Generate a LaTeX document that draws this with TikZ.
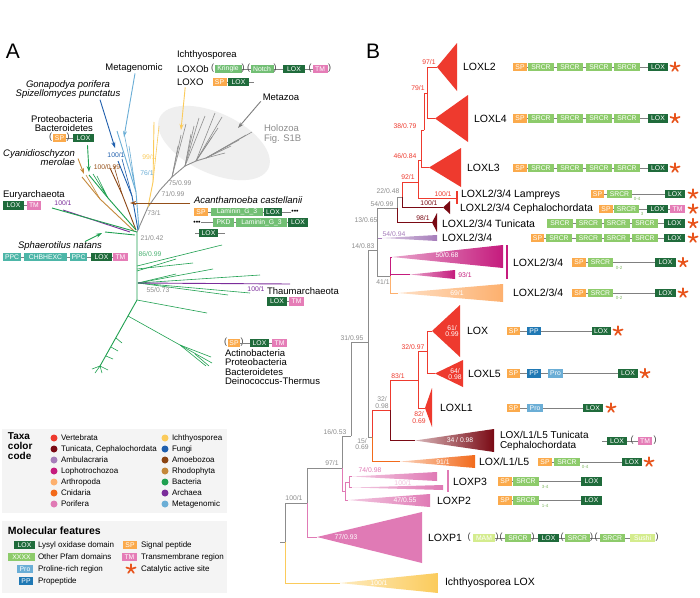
\documentclass[tikz,border=0pt]{standalone}
\usepackage{fontspec}
\setmainfont{Liberation Sans}
\usetikzlibrary{arrows.meta,positioning,calc}
\definecolor{loxg}{HTML}{1F6B3B}
\definecolor{pfam}{HTML}{8DCB6B}
\definecolor{pfamA}{HTML}{72BF74}
\definecolor{ppcc}{HTML}{4DB6A8}
\definecolor{spo}{HTML}{FBAA4C}
\definecolor{tmp}{HTML}{E57DB7}
\definecolor{proc}{HTML}{6BAED6}
\definecolor{ppb}{HTML}{1F78B4}
\definecolor{mamc}{HTML}{D4EC8E}
\definecolor{astc}{HTML}{E8541C}
\definecolor{lnk}{HTML}{808080}
\definecolor{tgray}{HTML}{8C8C8C}
\definecolor{legbg}{HTML}{F4F4F4}
\definecolor{holo}{HTML}{EFEFEF}
% taxa colours
\definecolor{vert}{HTML}{EE3A2E}
\definecolor{tuni}{HTML}{7A0A14}
\definecolor{ambu}{HTML}{A67DBA}
\definecolor{lopho}{HTML}{C51B7D}
\definecolor{arthro}{HTML}{FDB06E}
\definecolor{cnid}{HTML}{F26A1B}
\definecolor{pori}{HTML}{E07AB5}
\definecolor{ichth}{HTML}{FBCB5B}
\definecolor{fungi}{HTML}{1F5FAD}
\definecolor{amoeb}{HTML}{8B4513}
\definecolor{rhodo}{HTML}{C4883A}
\definecolor{bact}{HTML}{1FA050}
\definecolor{archa}{HTML}{7B2D9B}
\definecolor{metag}{HTML}{6BAED6}
\newcommand{\fsz}[1]{\fontsize{#1}{#1}\selectfont}
\tikzset{catstar/.pic={%
  \foreach \a in {270,342,54,126,198}
    \draw[astc,line width=1.7pt,line cap=round] (0,0) -- (\a:4.8);}}
\begin{document}
\begin{tikzpicture}[x=1pt,y=-1pt,
  every node/.style={inner sep=0pt,outer sep=0pt},
  txt/.style={font=\fsz{9.5}},
  itx/.style={font=\fsz{9.5}\itshape},
  clab/.style={font=\fsz{10.5},anchor=west},
  bsv/.style={font=\fsz{6.8}},
  wsv/.style={font=\fsz{6.8},text=white},
  dom/.style={fill=#1,text=white,font=\fsz{6.8},minimum height=8.5pt,inner xsep=0.8pt},
  loxd/.style={dom=loxg,minimum width=#1},loxd/.default=20,
  spd/.style={dom=spo,minimum width=#1},spd/.default=14,
  tmd/.style={dom=tmp,minimum width=#1},tmd/.default=15,
  srcr/.style={dom=pfam,minimum width=#1},srcr/.default=26,
  pfa/.style={dom=pfamA,minimum width=#1},
  ppcd/.style={dom=ppcc,minimum width=#1},
  mamd/.style={dom=mamc,minimum width=#1},
  ppd/.style={dom=ppb,minimum width=14},
  prod/.style={dom=proc,minimum width=#1},prod/.default=16,
  paren/.style={font=\fsz{9},text=black!75},
  subn/.style={font=\fsz{4.5},text=pfam!90!black},
  dlink/.style={draw=lnk,line width=0.8pt},
  brn/.style={line width=0.9pt},
  twig/.style={line width=0.6pt},
  arr/.style={line width=0.9pt,-{Stealth[length=6pt,width=4pt]}},
]
\useasboundingbox (0,0) rectangle (700,597);
\fill[white] (0,0) rectangle (700,597);

%% ---------------- panel A ----------------
\node[font=\fsz{21}] (pA) at (13,51) {A};
\fill[holo,rotate around={-25:(214,143)}] (214,143) ellipse [x radius=60, y radius=30];

\coordinate (c0) at (137,232);
\draw[brn,tgray] (c0) -- (148,207) -- (160,190) -- (172,177) -- (185,166) -- (196,161) -- (206,158);
\foreach \p in {(186,124),(178,146),(181,135)} \draw[twig,tgray] (172,177) -- \p;
\foreach \p in {(199,118),(205,116),(194,126),(191,134)} \draw[twig,tgray] (185,166) -- \p;
\foreach \p in {(215,113),(222,117),(212,137),(218,128)} \draw[twig,tgray] (196,161) -- \p;
\foreach \p in {(252,132),(246,135),(239,140),(231,146),(225,153)} \draw[twig,tgray] (206,158) -- \p;
\draw[brn,ichth] (148,207) -- (153,182) -- (154,122);
\draw[twig,ichth] (153,182) -- (159,126);
\draw[brn,metag] (139,229) -- (136,192) -- (117,131);
\draw[twig,metag] (136,192) -- (124,133) (136,192) -- (129,146);
\draw[brn,fungi] (138,230) -- (132,196) -- (118,161);
\draw[twig,fungi] (132,196) -- (122,159);
\draw[brn,amoeb] (136,230) -- (122,194) -- (110,168);
\draw[twig,amoeb] (122,194) -- (114,166);
\draw[brn,rhodo] (134,231) -- (100,199) -- (82,177);
\draw[twig,rhodo] (100,199) -- (86,175);
\draw[brn,bact] (136,230) -- (108,198) -- (89,175);
\draw[twig,bact] (108,198) -- (93,174) (108,198) -- (97,176);
\draw[brn,archa] (63,210) -- (130,232);
\draw[brn,bact] (52,208) -- (c0);
\draw[brn,bact] (105,232) -- (135,235);
\draw[brn,bact] (c0) -- (137,300) -- (128,316) -- (100,366);
\draw[twig,bact] (137,266) -- (222,245);
\draw[twig,bact] (137,269) -- (193,263);
\draw[twig,bact] (137,271) -- (176,259);
\coordinate (n55) at (138,283);
\foreach \p in {(213,269),(260,275),(228,295),(250,293),(176,274)} \draw[twig,bact] (n55) -- \p;
\draw[brn,archa] (n55) -- (290,284);
\draw[twig,bact] (137,300) -- (207,313);
\draw[twig,bact] (128,316) -- (180,345) -- (212,363);
\draw[twig,bact] (180,345) -- (206,366) (180,345) -- (211,357) (195,354) -- (209,366);
\draw[twig,bact] (116,338) -- (122,343) (111,347) -- (118,351) (106,356) -- (113,359)
  (100,366) -- (92,369) (100,366) -- (95,373) (100,366) -- (102,373) (100,366) -- (108,370);

\node[txt] (metaglab) at (134,68) {Metagenomic};
\node[itx,align=center] (gonalab) at (68,89.5) {Gonapodya porifera\\Spizellomyces punctatus};
\node[txt,align=right,anchor=east] (protlab) at (93,123.5) {Proteobacteria\\Bacteroidetes};
\node[spd=13] (prosp) at (59.5,138) {SP};
\node[loxd=21] (prolox) at (83.5,138) {LOX};
\draw[dlink] (prosp) -- (prolox);
\node[paren] (prop1) at (50.5,137.5) {(};
\node[paren] (prop2) at (68,137.5) {)};
\node[itx,align=right,anchor=east] (cyanlab) at (75,157.5) {Cyanidioschyzon\\merolae};

\node[txt,anchor=west] (ichlab) at (177,55) {Ichthyosporea};
\node[txt,anchor=west] (loxoblab) at (177,69) {LOXOb};
\node[txt,anchor=west] (loxolab) at (177,82) {LOXO};
\node[pfa=27] (kring) at (228,69) {Kringle};
\node[pfa=23] (notch) at (262,69) {Notch};
\node[loxd=22] (oblox) at (294,69) {LOX};
\node[tmd] (obtm) at (320,69) {TM};
\draw[dlink] (kring) -- (notch) (notch) -- (oblox) (oblox) -- (obtm);
\node[paren] (obp1) at (212.5,68.5) {(};
\node[paren] (obp2) at (243,68.5) {)};
\node[paren] (obp3) at (248.5,68.5) {(};
\node[paren] (obp4) at (275,68.5) {)};
\node[paren] (obp5) at (310,68.5) {(};
\node[paren] (obp6) at (329.5,68.5) {)};
\node[spd] (osp) at (219.5,82) {SP};
\node[loxd=21] (olox) at (238.5,82) {LOX};
\coordinate (otail) at (254,82);
\draw[dlink] (osp) -- (olox) (olox) -- (otail);
\node[txt] (metazlab) at (281,97) {Metazoa};
\node[txt,text=tgray,align=left,anchor=west] (holab) at (264,134) {Holozoa\\Fig. S1B};

\node[txt,anchor=west] (eurylab) at (3,195) {Euryarchaeota};
\node[loxd=21] (eulox) at (13.5,205.5) {LOX};
\node[tmd=14] (eutm) at (34,205.5) {TM};
\draw[dlink] (eulox) -- (eutm);
\node[itx] (sphlab) at (60,246) {Sphaerotilus natans};
\node[ppcd=18] (ppc1) at (12,257) {PPC};
\node[ppcd=43] (chb) at (45.5,257) {CHBHEXC};
\node[ppcd=17] (ppc2) at (78.5,257) {PPC};
\node[loxd=21] (sphlox) at (101.5,257) {LOX};
\node[tmd] (sphtm) at (120.5,257) {TM};
\draw[dlink] (ppc1) -- (chb) (chb) -- (ppc2) (ppc2) -- (sphlox) (sphlox) -- (sphtm);

\node[itx,anchor=west] (acanlab) at (194,200) {Acanthamoeba castellanii};
\node[spd] (a1sp) at (201,212) {SP};
\node[pfa=52] (a1lam) at (237,212) {Laminin\_G\_3};
\node[loxd=18] (a1lox) at (273,212) {LOX};
\node[font=\fsz{7}] (a1dot) at (295,212) {•••};
\draw[dlink] (a1sp) -- (a1lam) (a1lam) -- (a1lox) (a1lox) -- (a1dot);
\node[font=\fsz{7}] (a2dot) at (197,222.5) {•••};
\node[pfa=21] (a2pkd) at (223.5,222.5) {PKD};
\node[pfa=51] (a2lam) at (261.5,222.5) {Laminin\_G\_3};
\node[loxd] (a2lox) at (298,222.5) {LOX};
\draw[dlink] (a2dot) -- (a2pkd) (a2pkd) -- (a2lam) (a2lam) -- (a2lox);
\coordinate (a3h) at (195,233);
\node[loxd=19] (a3lox) at (208.5,233) {LOX};
\coordinate (a3t) at (225,233);
\draw[dlink] (a3h) -- (a3lox) (a3lox) -- (a3t);

\node[txt,anchor=west] (thaumlab) at (267,291) {Thaumarchaeota};
\node[loxd] (thlox) at (277,301.5) {LOX};
\node[tmd] (thtm) at (296.5,301.5) {TM};
\draw[dlink] (thlox) -- (thtm);
\node[paren] (bp1) at (225.5,342.5) {(};
\node[spd=12] (bsp) at (234,343) {SP};
\node[paren] (bp2) at (242,342.5) {)};
\node[loxd=19] (blox) at (259.5,343) {LOX};
\node[tmd] (btm) at (279.5,343) {TM};
\draw[dlink] (bsp) -- (blox) (blox) -- (btm);
\node[txt,align=left,anchor=north west] (bactlab) at (225,349.5) {Actinobacteria\\Proteobacteria\\Bacteroidetes\\Deinococcus-Thermus};

\node[bsv,text=fungi] (sa1) at (116,155) {100/1};
\node[bsv,text=amoeb!80!rhodo] (sa2) at (107,167) {100/0.99};
\node[bsv,text=ichth] (sa3) at (149,157) {99/1};
\node[bsv,text=metag] (sa4) at (147,173) {76/1};
\node[bsv,text=tgray] (sa5) at (180,183) {75/0.99};
\node[bsv,text=tgray] (sa6) at (173,194) {71/0.99};
\node[bsv,text=tgray] (sa7) at (154,213) {73/1};
\node[bsv,text=archa] (sa8) at (63,203) {100/1};
\node[bsv,text=tgray] (sa9) at (152,238) {21/0.42};
\node[bsv,text=bact!80] (sa10) at (150,254) {86/0.99};
\node[bsv,text=tgray] (sa11) at (158,290) {55/0.73};
\node[bsv,text=archa] (sa12) at (256,289) {100/1};

\coordinate (metagtip) at (124,137);
\draw[arr,metag] ($(metaglab.south)+(1,1)$) -- (metagtip);
\coordinate (gonatip) at (115,148);
\draw[arr,fungi] ($(gonalab.south)+(32,1)$) -- (gonatip);
\coordinate (prottip) at (89,172);
\draw[arr,bact] ($(prolox.south)+(4,3)$) -- (prottip);
\coordinate (cyantip) at (84,174);
\draw[arr,rhodo] ($(cyanlab.east)+(3,1)$) -- (cyantip);
\coordinate (ichtip) at (181,130);
\draw[arr,ichth] ($(loxolab.south)+(-5,2)$) -- (ichtip);
\coordinate (metaztip) at (238,128);
\draw[arr,tgray!90!black] ($(metazlab.south west)+(-2,1)$) -- (metaztip);
\coordinate (acantip) at (130,203);
\draw[arr,amoeb!85!rhodo] ($(acanlab.west)+(-4,3)$) -- (acantip);
\coordinate (sphtip) at (102,233);
\draw[arr,bact] ($(sphlab.north)+(25,0)$) -- (sphtip);

%% ---------------- legends ----------------
\fill[legbg] (2,429) rectangle (227,513);
\node[font=\fsz{10}\bfseries,align=left,anchor=north west] (taxt) at (8,433) {Taxa\\color\\code};
\foreach \nm/\c [count=\i from 0] in {Vertebrata/vert,{Tunicata, Cephalochordata}/tuni,Ambulacraria/ambu,Lophotrochozoa/lopho,Arthropoda/arthro,Cnidaria/cnid,Porifera/pori}{
  \node[circle,fill=\c,minimum size=7pt] (ka\i) at (54,438+11*\i) {};
  \node[anchor=west,font=\fsz{8}] (kat\i) at (61,438+11*\i) {\nm};
}
\foreach \nm/\c [count=\i from 0] in {Ichthyosporea/ichth,Fungi/fungi,Amoebozoa/amoeb,Rhodophyta/rhodo,Bacteria/bact,Archaea/archa,Metagenomic/metag}{
  \node[circle,fill=\c,minimum size=7pt] (kb\i) at (165,438+11*\i) {};
  \node[anchor=west,font=\fsz{8}] (kbt\i) at (172,438+11*\i) {\nm};
}
\fill[legbg] (2,521) rectangle (227,593);
\node[font=\fsz{10.5}\bfseries,anchor=west] (molt) at (8,531) {Molecular features};
\node[loxd=21,anchor=east] (klox) at (35,545) {LOX};
\node[dom=pfam,minimum width=27,anchor=east] (kxx) at (35,557) {XXXX};
\node[prod,anchor=east] (kpro) at (33,569) {Pro};
\node[ppd,anchor=east] (kpp) at (33,581) {PP};
\node[anchor=west,font=\fsz{8}] (kloxt) at (38,545) {Lysyl oxidase domain};
\node[anchor=west,font=\fsz{8}] (kxxt) at (38,557) {Other Pfam domains};
\node[anchor=west,font=\fsz{8}] (kprot) at (38,569) {Proline-rich region};
\node[anchor=west,font=\fsz{8}] (kppt) at (38,581) {Propeptide};
\node[spd,anchor=east] (ksp) at (137,545) {SP};
\node[tmd,anchor=east] (ktm) at (137,557) {TM};
\pic at (131,569) {catstar};
\node[anchor=west,font=\fsz{8}] (kspt) at (141,545) {Signal peptide};
\node[anchor=west,font=\fsz{8}] (ktmt) at (141,557) {Transmembrane region};
\node[anchor=west,font=\fsz{8}] (kcat) at (141,569) {Catalytic active site};

%% ---------------- panel B ----------------
\node[font=\fsz{21}] (pB) at (373,51) {B};
\coordinate (root) at (285,542);
\coordinate (rstub) at (280,542);
\coordinate (ichA) at (340,583);
\coordinate (nP) at (307,503);
\coordinate (lp1) at (317,537);
\coordinate (nQ) at (342,468);
\coordinate (nS) at (351,436);
\coordinate (nPf) at (345,491);
\coordinate (lp2) at (348,500);
\coordinate (nP3) at (349,482);
\coordinate (lp3a) at (352,476.5);
\coordinate (lp3b) at (352,487.5);
\coordinate (n31) at (368,342);
\coordinate (n14) at (377,250);
\coordinate (n15) at (372,437);
\coordinate (n54) at (397,208);
\coordinate (ambA) at (382,238);
\coordinate (n41) at (390,276);
\coordinate (n22) at (402,197);
\coordinate (tuA) at (432,222.5);
\coordinate (n92) at (418,182);
\coordinate (cephA) at (443,207.5);
\coordinate (n46) at (421,160);
\coordinate (lampE) at (456,198);
\coordinate (n38) at (424,130);
\coordinate (l3A) at (429,167.5);
\coordinate (n79) at (427,93);
\coordinate (l2A) at (437,67);
\coordinate (l4A) at (435,118.5);
\coordinate (lo1A) at (392,257);
\coordinate (lo2A) at (410,274.5);
\coordinate (arA) at (398,293);
\coordinate (n32) at (390,410);
\coordinate (cnA) at (400,461.5);
\coordinate (n83) at (418,380);
\coordinate (tlA) at (415,440.5);
\coordinate (n32b) at (427,351);
\coordinate (x1A) at (425,408);
\coordinate (loxA) at (432,331);
\coordinate (l5A) at (435,373.5);

\draw[brn,tgray] (rstub) -- (root);
\draw[brn,ichth] (root) |- (ichA);
\draw[brn,tgray] (root) |- (nP);
\draw[brn,pori] (nP) |- (lp1);
\draw[brn,tgray] (nP) |- (nQ);
\draw[brn,pori] (nQ) |- (nPf);
\draw[brn,tgray] (nQ) |- (nS);
\draw[brn,pori] (nPf) |- (lp2);
\draw[brn,pori] (nPf) |- (nP3);
\draw[brn,pori] (nP3) |- (lp3a);
\draw[brn,pori] (nP3) |- (lp3b);
\draw[brn,tgray] (nS) |- (n31);
\draw[brn,tgray] (n31) |- (n14);
\draw[brn,tgray] (n31) |- (n15);
\draw[brn,ambu] (n14) |- (ambA);
\draw[brn,tgray] (n14) |- (n54);
\draw[brn,tgray] (n14) |- (n41);
\draw[brn,tuni] (n54) |- (tuA);
\draw[brn,tgray] (n54) |- (n22);
\draw[brn,tuni] (n22) |- (cephA);
\draw[brn,vert] (n22) |- (n92);
\draw[brn,vert] (n92) |- (lampE);
\draw[brn,vert] (n92) |- (n46);
\draw[brn,vert] (n46) |- (l3A);
\draw[brn,vert] (n46) |- (n38);
\draw[brn,vert] (n38) |- (n79);
\draw[brn,vert] (n79) |- (l2A);
\draw[brn,vert] (n79) |- (l4A);
\draw[brn,lopho] (n41) |- (lo1A);
\draw[brn,lopho] (n41) |- (lo2A);
\draw[brn,arthro] (n41) |- (arA);
\draw[brn,cnid] (n15) |- (cnA);
\draw[brn,vert] (n15) |- (n32);
\draw[brn,tuni] (n32) |- (tlA);
\draw[brn,vert] (n32) |- (n83);
\draw[brn,vert] (n83) |- (x1A);
\draw[brn,vert] (n83) |- (n32b);
\draw[brn,vert] (n32b) |- (loxA);
\draw[brn,vert] (n32b) |- (l5A);

\fill[vert] (l2A) -- (457,43) -- (457,91) -- cycle;
\fill[vert] (l4A) -- (468,95) -- (468,142) -- cycle;
\fill[vert] (l3A) -- (461,148) -- (461,187) -- cycle;
\fill[vert] (loxA) -- (460,305) -- (460,357) -- cycle;
\fill[vert] (l5A) -- (463,360) -- (463,387) -- cycle;
\fill[vert] (x1A) -- (432,388) -- (432,427) -- cycle;
\draw[vert,line width=1.2pt] (457,191) -- (457,204);
\fill[tuni] (cephA) -- (450,201) -- (450,214) -- cycle;
\fill[tuni] (tuA) -- (437,213) -- (437,232) -- cycle;
\shade[left color=ambu!40,right color=ambu] (ambA) -- (437,235) -- (437,241) -- cycle;
\shade[left color=lopho!40,right color=lopho] (lo1A) -- (503,245) -- (503,268) -- cycle;
\shade[left color=lopho!40,right color=lopho] (lo2A) -- (455,270) -- (455,279) -- cycle;
\draw[lopho,line width=1.2pt] (507,245) -- (507,279);
\shade[left color=arthro!40,right color=arthro] (arA) -- (503,284) -- (503,302) -- cycle;
\shade[left color=tuni!30,right color=tuni] (tlA) -- (494,429) -- (494,452) -- cycle;
\shade[left color=cnid!30,right color=cnid] (cnA) -- (475,455) -- (475,468) -- cycle;
\shade[left color=pori!40,right color=pori] (lp3a) -- (437,472) -- (437,481) -- cycle;
\shade[left color=pori!40,right color=pori] (lp3b) -- (443,485) -- (443,490) -- cycle;
\draw[pori,line width=1.2pt] (448,470) -- (448,492);
\shade[left color=pori!40,right color=pori] (lp2) -- (430,494) -- (430,507) -- cycle;
\fill[pori] (lp1) -- (422,512) -- (422,563) -- cycle;
\shade[left color=ichth!40,right color=ichth] (ichA) -- (438,573) -- (438,593) -- cycle;

\node[bsv,text=vert] (sb1) at (429,62) {97/1};
\node[bsv,text=vert] (sb2) at (418,88) {79/1};
\node[bsv,text=vert] (sb3) at (405,126) {38/0.79};
\node[bsv,text=vert] (sb4) at (405,156) {46/0.84};
\node[bsv,text=vert] (sb5) at (408,177.5) {92/1};
\node[bsv,text=tgray] (sb6) at (388,191.5) {22/0.48};
\node[bsv,text=vert] (sb7) at (443,194) {100/1};
\node[bsv,text=tuni] (sb8) at (429,203.5) {100/1};
\node[bsv,text=tgray] (sb9) at (382,204) {54/0.99};
\node[bsv,text=tuni] (sb10) at (423,218.5) {98/1};
\node[bsv,text=tgray] (sb11) at (366,220) {13/0.65};
\node[bsv,text=ambu] (sb12) at (394,234) {54/0.94};
\node[bsv,text=tgray] (sb13) at (363,246) {14/0.83};
\node[wsv] (sb14) at (447,255) {50/0.68};
\node[bsv,text=lopho] (sb15) at (465,275) {93/1};
\node[bsv,text=tgray] (sb16) at (383,282) {41/1};
\node[wsv] (sb17) at (457,293) {69/1};
\node[wsv,align=center] (sb18) at (452,331) {61/\\0.99};
\node[wsv,align=center] (sb19) at (455,374) {64/\\0.98};
\node[bsv,text=vert] (sb20) at (413,347) {32/0.97};
\node[bsv,text=vert] (sb21) at (398,376) {83/1};
\node[bsv,text=vert,align=center] (sb22) at (419,417.5) {82/\\0.69};
\node[bsv,text=tgray] (sb23) at (352,338) {31/0.95};
\node[bsv,text=tgray,align=center] (sb24) at (382,402.5) {32/\\0.98};
\node[bsv,text=tgray,align=center] (sb25) at (362,444) {15/\\0.69};
\node[wsv] (sb26) at (460,440.5) {34 / 0.98};
\node[wsv] (sb27) at (443,462) {91/1};
\node[bsv,text=tgray] (sb28) at (335,432) {16/0.53};
\node[bsv,text=tgray] (sb29) at (332,463.5) {97/1};
\node[bsv,text=pori] (sb30) at (370,470.5) {74/0.98};
\node[bsv,text=pori!45] (sb31) at (403,483.5) {100/1};
\node[wsv] (sb32) at (405,500.5) {47/0.55};
\node[bsv,text=tgray] (sb33) at (294,498) {100/1};
\node[wsv] (sb34) at (346,537) {77/0.93};
\node[wsv] (sb35) at (379,583) {100/1};

\node[clab] (l2lab) at (463,67) {LOXL2};
\node[clab] (l4lab) at (474,118.5) {LOXL4};
\node[clab] (l3lab) at (467,168) {LOXL3};
\node[clab] (lamlab) at (461,194.5) {LOXL2/3/4 Lampreys};
\node[clab] (ceplab) at (460,209) {LOXL2/3/4 Cephalochordata};
\node[clab] (tunlab) at (442,223.5) {LOXL2/3/4 Tunicata};
\node[clab] (amblab) at (442,238) {LOXL2/3/4};
\node[clab] (lolab) at (513,262.5) {LOXL2/3/4};
\node[clab] (arlab) at (513,293) {LOXL2/3/4};
\node[clab] (loxlab) at (467,331) {LOX};
\node[clab] (l5lab) at (468,373.5) {LOXL5};
\node[clab] (l1lab) at (440,408) {LOXL1};
\node[clab,align=left,font=\fsz{10}] (tllab) at (500,440.5) {LOX/L1/L5 Tunicata\\Cephalochordata};
\node[clab] (cnlab) at (479,462) {LOX/L1/L5};
\node[clab] (p3lab) at (453,482) {LOXP3};
\node[clab] (p2lab) at (437,501) {LOXP2};
\node[clab] (p1lab) at (428,538) {LOXP1};
\node[clab] (iclab) at (445,583) {Ichthyosporea LOX};

% domain rows
\foreach \r/\y in {a/67,b/118.5,c/168}{
  \node[spd] (\r-sp) at (520,\y) {SP};
  \foreach \i/\x in {1/541,2/570,3/599,4/627}
    \node[srcr] (\r-s\i) at (\x,\y) {SRCR};
  \node[loxd] (\r-lox) at (658,\y) {LOX};
  \draw[dlink] (\r-sp) -- (\r-s1) (\r-s1) -- (\r-s2) (\r-s2) -- (\r-s3) (\r-s3) -- (\r-s4) (\r-s4) -- (\r-lox);
  \pic at (675,\y) {catstar};
}
\node[spd=13] (lmsp) at (597.5,194) {SP};
\node[srcr=25] (lms) at (619.5,194) {SRCR};
\node[subn] (lmn) at (637,198.5) {0-4};
\node[loxd] (lmlox) at (675,194) {LOX};
\draw[dlink] (lmsp) -- (lms) (lms) -- (lmlox);
\pic at (693,194) {catstar};
\node[spd] (cpsp) at (606,209) {SP};
\node[srcr=25] (cps) at (626.5,209) {SRCR};
\node[subn] (cpn) at (642,213.5) {3};
\node[loxd=21] (cplox) at (657.5,209) {LOX};
\node[tmd] (cptm) at (677.5,209) {TM};
\draw[dlink] (cpsp) -- (cps) (cps) -- (cplox) (cplox) -- (cptm);
\pic at (693,209) {catstar};
\foreach \i/\x in {1/560,2/588.5,3/616.5,4/645}
  \node[srcr] (tu-s\i) at (\x,223.5) {SRCR};
\node[loxd=21] (tulox) at (674.5,223.5) {LOX};
\draw[dlink] (tu-s1) -- (tu-s2) (tu-s2) -- (tu-s3) (tu-s3) -- (tu-s4) (tu-s4) -- (tulox);
\pic at (693,223.5) {catstar};
\node[spd=13] (amsp) at (537.5,238) {SP};
\foreach \i/\x in {1/559,2/588.5,3/616.5,4/645}
  \node[srcr] (am-s\i) at (\x,238) {SRCR};
\node[loxd=21] (amlox) at (674.5,238) {LOX};
\draw[dlink] (amsp) -- (am-s1) (am-s1) -- (am-s2) (am-s2) -- (am-s3) (am-s3) -- (am-s4) (am-s4) -- (amlox);
\pic at (693,238) {catstar};
\foreach \r/\y in {lo/262.5,ar/293}{
  \node[spd] (\r-sp) at (579,\y) {SP};
  \node[srcr=25] (\r-s) at (600.5,\y) {SRCR};
  \node[subn] (\r-n) at (619,\y+5) {0-2};
  \node[loxd=21] (\r-lox) at (665.5,\y) {LOX};
  \draw[dlink] (\r-sp) -- (\r-s) (\r-s) -- (\r-lox);
  \pic at (683,\y) {catstar};
}
\node[spd=13] (oxsp) at (513.5,331) {SP};
\node[ppd] (oxpp) at (534,331) {PP};
\node[loxd=19] (oxlox) at (601,331) {LOX};
\draw[dlink] (oxsp) -- (oxpp) (oxpp) -- (oxlox);
\pic at (618,331) {catstar};
\node[spd=13] (l5sp) at (513.5,373.5) {SP};
\node[ppd] (l5pp) at (534,373.5) {PP};
\node[prod=15] (l5pro) at (555.5,373.5) {Pro};
\node[loxd] (l5lox) at (628,373.5) {LOX};
\draw[dlink] (l5sp) -- (l5pp) (l5pp) -- (l5pro) (l5pro) -- (l5lox);
\pic at (645,373.5) {catstar};
\node[spd=13] (l1sp) at (513.5,408) {SP};
\node[prod] (l1pro) at (535,408) {Pro};
\node[loxd] (l1lox) at (593,408) {LOX};
\draw[dlink] (l1sp) -- (l1pro) (l1pro) -- (l1lox);
\pic at (611,408) {catstar};
\coordinate (tlh) at (602,441);
\node[loxd] (tllox) at (617,441) {LOX};
\node[tmd=14] (tltm) at (645,441) {TM};
\draw[dlink] (tlh) -- (tllox) (tllox) -- (tltm);
\node[paren] (tlp1) at (632,440.5) {(};
\node[paren] (tlp2) at (655,440.5) {)};
\node[spd] (cnsp) at (545,462) {SP};
\node[srcr] (cns) at (567,462) {SRCR};
\node[subn] (cnn) at (585,466.5) {0-4};
\node[loxd] (cnlox) at (632,462) {LOX};
\draw[dlink] (cnsp) -- (cns) (cns) -- (cnlox);
\pic at (649,462) {catstar};
\foreach \r/\y/\k in {p3/481.5/3-4,p2/500.5/1-4}{
  \node[spd] (\r-sp) at (505,\y) {SP};
  \node[srcr] (\r-s) at (526,\y) {SRCR};
  \node[subn] (\r-n) at (545,\y+5) {\k};
  \node[loxd=21] (\r-lox) at (591.5,\y) {LOX};
  \draw[dlink] (\r-sp) -- (\r-s) (\r-s) -- (\r-lox);
}
\node[mamd=22] (p1mam) at (484,538) {MAM};
\node[srcr] (p1s1) at (518,538) {SRCR};
\node[loxd=21] (p1lox) at (548.5,538) {LOX};
\node[srcr=25] (p1s2) at (577.5,538) {SRCR};
\node[srcr=25] (p1s3) at (612.5,538) {SRCR};
\node[mamd=25] (p1su) at (642.5,538) {Sushi};
\draw[dlink] (p1mam) -- (p1s1) (p1s1) -- (p1lox) (p1lox) -- (p1s2) (p1s2) -- (p1s3) (p1s3) -- (p1su);
\foreach \i/\x/\s in {1/469/(,2/497/),3/501/(,4/533/),5/562/(,6/591.5/),7/596/(,8/657/)}
  \node[paren] (p1p\i) at (\x,537.5) {\s};
\end{tikzpicture}
\end{document}
